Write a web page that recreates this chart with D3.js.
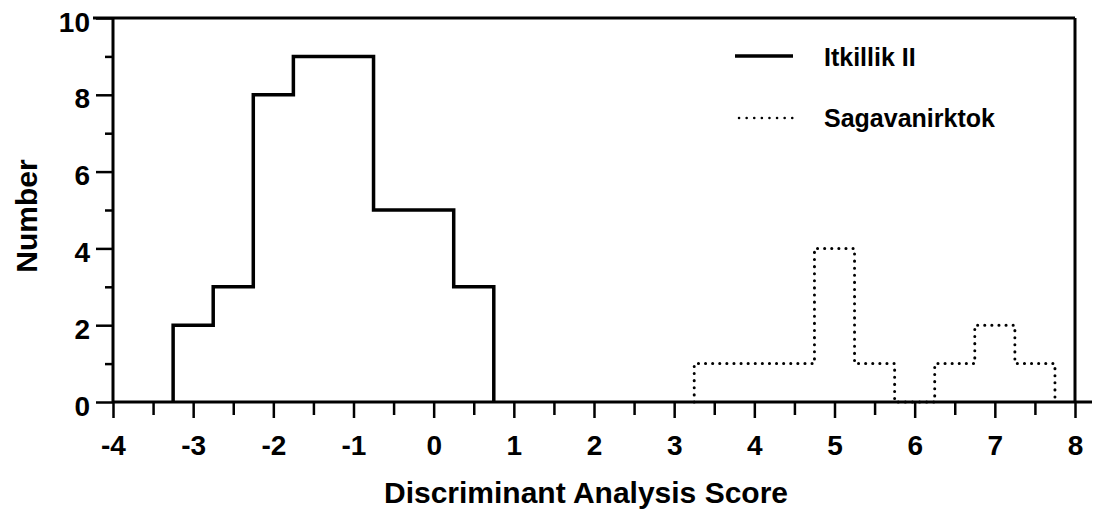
<!DOCTYPE html>
<html>
<head>
<meta charset="utf-8">
<script src="https://cdn.jsdelivr.net/npm/d3@7"></script>
<style>
  html, body { margin: 0; padding: 0; background: #fff; }
  svg { display: block; }
  text { font-family: "Liberation Sans", Arial, Helvetica, sans-serif; font-weight: bold; fill: #000; }
</style>
</head>
<body>
<svg id="chart" width="1096" height="512"></svg>
<script>
// Histogram bins (centres, width 0.5) and counts for each till group
const binWidth = 0.5;
const itkillikBins = [-3, -2.5, -2, -1.5, -1, -0.5, 0, 0.5];
const itkillikCounts = [2, 3, 8, 9, 9, 5, 5, 3];
const sagaBins = [3.5, 4, 4.5, 5, 5.5, 6, 6.5, 7, 7.5];
const sagaCounts = [1, 1, 1, 4, 1, 0, 1, 2, 1];

// Axis ticks
const xMajorTicks = [-4, -3, -2, -1, 0, 1, 2, 3, 4, 5, 6, 7, 8];
const xMinorTicks = [-3.5, -2.5, -1.5, -0.5, 0.5, 1.5, 2.5, 3.5, 4.5, 5.5, 6.5, 7.5];
const yMajorTicks = [0, 2, 4, 6, 8, 10];
const yMinorTicks = [1, 3, 5, 7, 9];

const seriesNames = ["Itkillik II", "Sagavanirktok"];

const svg = d3.select("#chart");
const plotLeft = 113, plotRight = 1075, plotTop = 18, plotBottom = 402;

const x = d3.scaleLinear().domain([-4, 8]).range([plotLeft, plotRight]);
const y = d3.scaleLinear().domain([0, 10]).range([plotBottom, plotTop]);

// Step outline of a histogram
function stepPoints(bins, counts) {
  const pts = [];
  pts.push([bins[0] - binWidth / 2, 0]);
  bins.forEach((c, i) => pts.push([c - binWidth / 2, counts[i]]));
  pts.push([bins[bins.length - 1] + binWidth / 2, 0]);
  return pts;
}
const line = d3.line()
  .x(d => x(d[0]))
  .y(d => y(d[1]))
  .curve(d3.curveStepAfter);

svg.append("path")
  .attr("d", line(stepPoints(itkillikBins, itkillikCounts)))
  .attr("fill", "none")
  .attr("stroke", "#000")
  .attr("stroke-width", 3.5)
  .attr("stroke-linejoin", "miter");

svg.append("path")
  .attr("d", line(stepPoints(sagaBins, sagaCounts)))
  .attr("fill", "none")
  .attr("stroke", "#000")
  .attr("stroke-width", 3)
  .attr("stroke-linecap", "round")
  .attr("stroke-dasharray", "0.1 7");

// Frame: top and right edges
svg.append("line")
  .attr("x1", plotLeft - 20).attr("x2", plotRight)
  .attr("y1", plotTop).attr("y2", plotTop)
  .attr("stroke", "#000").attr("stroke-width", 3);
svg.append("line")
  .attr("x1", plotRight).attr("x2", plotRight)
  .attr("y1", plotTop).attr("y2", plotBottom)
  .attr("stroke", "#000").attr("stroke-width", 3);

// Axis lines
svg.append("line")
  .attr("x1", plotLeft).attr("x2", 1092)
  .attr("y1", plotBottom).attr("y2", plotBottom)
  .attr("stroke", "#000").attr("stroke-width", 3);
svg.append("line")
  .attr("x1", plotLeft).attr("x2", plotLeft)
  .attr("y1", plotTop).attr("y2", plotBottom)
  .attr("stroke", "#000").attr("stroke-width", 3);

// X axis
const xMajor = svg.append("g")
  .attr("transform", `translate(0,${plotBottom})`)
  .call(d3.axisBottom(x).tickValues(xMajorTicks).tickSize(16).tickFormat(d3.format("d")));
const xMinor = svg.append("g")
  .attr("transform", `translate(0,${plotBottom})`)
  .call(d3.axisBottom(x).tickValues(xMinorTicks).tickSize(13).tickFormat(""));

// Y axis
const yMajor = svg.append("g")
  .attr("transform", `translate(${plotLeft},0)`)
  .call(d3.axisLeft(y).tickValues(yMajorTicks).tickSize(17).tickFormat(d3.format("d")));
const yMinor = svg.append("g")
  .attr("transform", `translate(${plotLeft},0)`)
  .call(d3.axisLeft(y).tickValues(yMinorTicks).tickSize(8).tickFormat(""));

[xMajor, xMinor, yMajor, yMinor].forEach(g => {
  g.select(".domain").remove();
  g.selectAll(".tick line").attr("stroke", "#000").attr("stroke-width", 2.5);
});

xMajor.selectAll(".tick text")
  .attr("y", 53).attr("dy", null)
  .attr("font-size", 28)
  .text(d => d < 0 ? "-" + Math.abs(d) : String(d));
yMajor.selectAll(".tick text")
  .attr("x", -23).attr("dy", null).attr("y", 13)
  .attr("font-size", 28);

svg.selectAll(".tick text")
  .attr("font-family", "'Liberation Sans', Arial, sans-serif")
  .attr("font-weight", "bold")
  .attr("fill", "#000");

// Axis titles
svg.append("text")
  .attr("x", 586).attr("y", 503)
  .attr("text-anchor", "middle")
  .attr("font-size", 30)
  .text("Discriminant Analysis Score");

svg.append("text")
  .attr("transform", "translate(37,216) rotate(-90)")
  .attr("text-anchor", "middle")
  .attr("font-size", 30)
  .text("Number");

// Legend
const legend = svg.append("g");
legend.append("line")
  .attr("x1", 735).attr("x2", 793).attr("y1", 56).attr("y2", 56)
  .attr("stroke", "#000").attr("stroke-width", 3.5);
legend.append("text")
  .attr("x", 824).attr("y", 66)
  .attr("font-size", 25)
  .text(seriesNames[0]);
legend.append("line")
  .attr("x1", 739).attr("x2", 793).attr("y1", 118).attr("y2", 118)
  .attr("stroke", "#000").attr("stroke-width", 2.5)
  .attr("stroke-linecap", "round")
  .attr("stroke-dasharray", "0.1 7.5");
legend.append("text")
  .attr("x", 824).attr("y", 127)
  .attr("font-size", 25)
  .text(seriesNames[1]);
</script>
</body>
</html>
